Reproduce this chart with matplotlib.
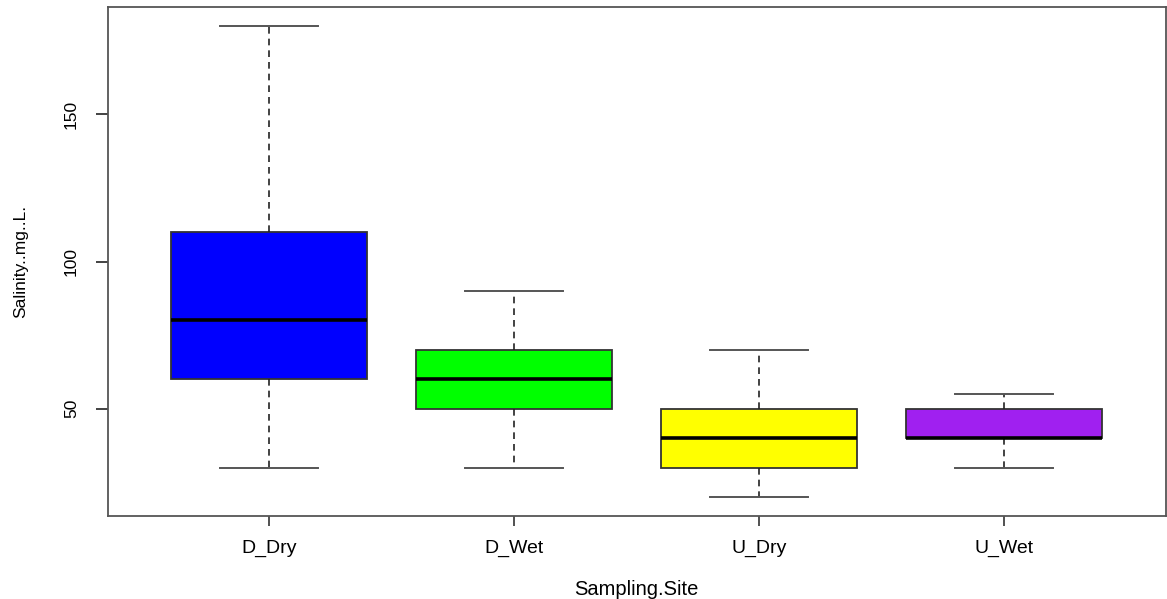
import matplotlib.pyplot as plt

plt.rcParams['font.family'] = ['Liberation Sans', 'DejaVu Sans']

sites = ['D_Dry', 'D_Wet', 'U_Dry', 'U_Wet']
whislo = [30, 30, 20, 30]
q1 = [60, 50, 30, 40]
med = [80, 60, 40, 40]
q3 = [110, 70, 50, 50]
whishi = [180, 90, 70, 55]
colors = ['#0000FF', '#00FF00', '#FFFF00', '#A020F0']

stats = []
for i in range(len(sites)):
    stats.append({'label': sites[i], 'whislo': whislo[i], 'q1': q1[i],
                  'med': med[i], 'q3': q3[i], 'whishi': whishi[i], 'fliers': []})

fig = plt.figure(figsize=(11.67, 5.99), dpi=100)
ax = fig.add_axes([107.5 / 1167, 1 - 516 / 599, (1165.5 - 107.5) / 1167, (516 - 7) / 599])

bp = ax.bxp(stats, positions=[1, 2, 3, 4], widths=0.8, patch_artist=True,
            boxprops=dict(edgecolor='#333333', linewidth=1.3),
            medianprops=dict(color='black', linewidth=2.6, solid_capstyle='butt'),
            whiskerprops=dict(color='#222222', linestyle=(0, (4, 3)), linewidth=1.2),
            capprops=dict(color='#555555', linewidth=1.4), capwidths=0.4)
for box, c in zip(bp['boxes'], colors):
    box.set_facecolor(c)

ax.set_xlim(0.34, 4.66)
ax.set_ylim(13.6, 186.4)
ax.set_yticks([50, 100, 150])
ax.set_yticklabels(['50', '100', '150'], rotation=90, va='center')
ax.tick_params(axis='x', labelsize=14, length=7, width=1.2, color='#333333', pad=10)
ax.tick_params(axis='y', labelsize=12.5, length=9, width=1.2, color='#222222', pad=11.5)
for s in ax.spines.values():
    s.set_color('#555555')
    s.set_linewidth(1.3)

ax.set_xlabel('Sampling.Site', fontsize=14.5, labelpad=17)
ax.set_ylabel('Salinity..mg..L.', fontsize=12.5)
ax.yaxis.set_label_coords(-0.075, 0.5)

fig.savefig('out.png', dpi=100)
